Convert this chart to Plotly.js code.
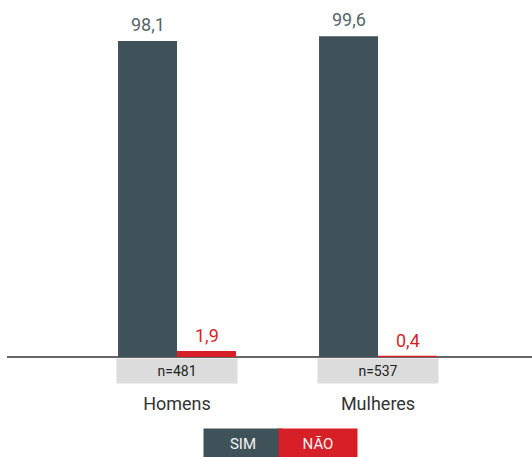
<!DOCTYPE html>
<html><head><meta charset="utf-8">
<script src="https://cdn.plot.ly/plotly-3.0.1.min.js"></script>
<style>html,body{margin:0;padding:0;background:#fff}#c{width:532px;height:457px}</style>
</head><body><div id="c"></div>
<script>
const categories = ["Homens", "Mulheres"];
const simValues = [98.1, 99.6];
const naoValues = [1.9, 0.4];
const sampleSizes = ["n=481", "n=537"];
const seriesNames = ["SIM", "NÃO"];

const SIM_COLOR = "#405259";
const NAO_COLOR = "#d71f27";
const FONT = "Roboto, 'DejaVu Sans', sans-serif";
const fmt = v => v.toFixed(1).replace(".", ",");

const traces = [
  {type: "bar", name: seriesNames[0], x: categories, y: simValues, marker: {color: SIM_COLOR}, hoverinfo: "none"},
  {type: "bar", name: seriesNames[1], x: categories, y: naoValues, marker: {color: NAO_COLOR}, hoverinfo: "none"}
];

const annotations = [];
categories.forEach((c, i) => {
  annotations.push({x: c, xref: "x", xshift: -29.5, y: simValues[i], yref: "y", yanchor: "bottom", yshift: 4,
    text: fmt(simValues[i]), showarrow: false, font: {size: 18, color: "#55666c", family: FONT}});
  annotations.push({x: c, xref: "x", xshift: 29.5, y: naoValues[i], yref: "y", yanchor: "bottom", yshift: 3,
    text: fmt(naoValues[i]), showarrow: false, font: {size: 18, color: NAO_COLOR, family: FONT}});
  annotations.push({x: c, xref: "x", y: 0, yref: "y", yanchor: "top", yshift: -1,
    text: sampleSizes[i], showarrow: false, bgcolor: "#dcdcdc", width: 118, height: 22,
    font: {size: 14, color: "#222", family: FONT}});
});
const legendX = [239/532, 315/532];
const legendCols = [SIM_COLOR, NAO_COLOR];
seriesNames.forEach((n, i) => {
  annotations.push({x: legendX[i], xref: "paper", y: 0, yref: "paper", yanchor: "middle", yshift: -86,
    text: n, showarrow: false, bgcolor: legendCols[i], width: 76, height: 27,
    font: {size: 15, color: "#f4f4f4", family: FONT}});
});

const layout = {
  width: 532, height: 457,
  margin: {l: 7, r: 0, t: 0, b: 100},
  barmode: "group", bargap: 0.413, bargroupgap: 0,
  showlegend: false,
  paper_bgcolor: "#fff", plot_bgcolor: "#fff",
  font: {family: FONT},
  xaxis: {range: [-0.8458, 1.766], showgrid: false, showline: false, zeroline: false,
    ticks: "", ticklabelstandoff: 34, tickfont: {size: 18, color: "#333", family: FONT}},
  yaxis: {range: [0, 110.83], visible: true, showgrid: false, showticklabels: false, ticks: "",
    showline: false, zeroline: true, zerolinecolor: "#666", zerolinewidth: 1.5},
  annotations: annotations
};
Plotly.newPlot("c", traces, layout, {displayModeBar: false, staticPlot: true});
</script></body></html>
